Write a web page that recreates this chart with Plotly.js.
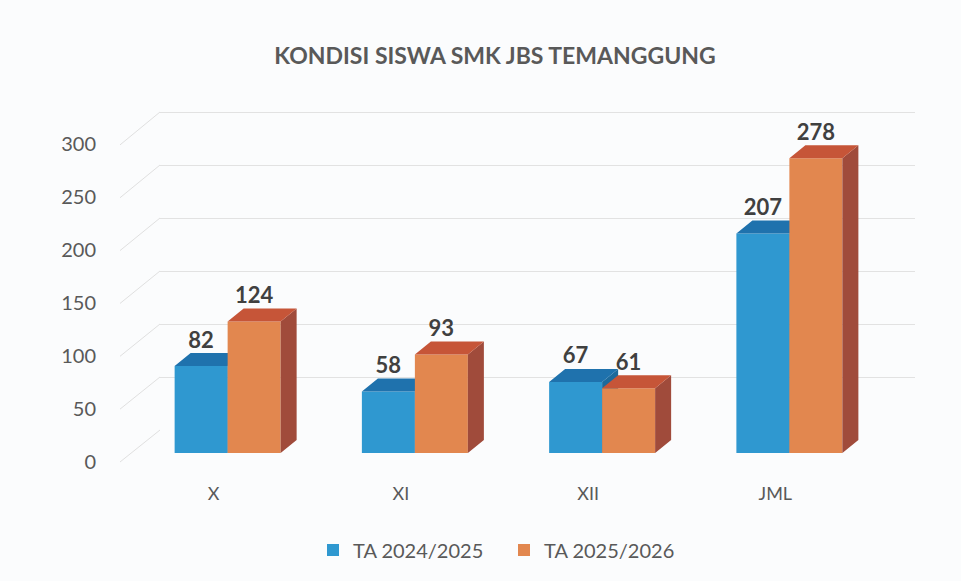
<!DOCTYPE html>
<html><head><meta charset="utf-8">
<script src="https://cdn.plot.ly/plotly-3.0.1.min.js"></script>
<style>html,body{margin:0;padding:0;background:#fbfcfd}#chart{width:961px;height:581px}</style>
</head><body><div id="chart"></div><script>
const categories = ['X', 'XI', 'XII', 'JML'];
const seriesNames = ['TA 2024/2025', 'TA 2025/2026'];
const ta2024 = [82, 58, 67, 207];
const ta2025 = [124, 93, 61, 278];
const yTicks = [0, 50, 100, 150, 200, 250, 300];
const chartTitle = 'KONDISI SISWA SMK JBS TEMANGGUNG';

// style / geometry constants
const W = 961, H = 581;
const PXU = 1.06;            // px per unit on value axis
const BW = 0.283;            // bar width in category units
const DX = 0.0855;           // depth offset x (category units)
const DY = 12.3;             // depth offset y (value units)
const idx = categories.map((c, i) => i);
const yMax = 373 / PXU;

function faces(vals, off) {
  const top = {x: [], y: []}, side = {x: [], y: []};
  vals.forEach((v, i) => {
    const x0 = i + off, x1 = x0 + BW;
    top.x.push(x0, x1, x1 + DX, x0 + DX, x0, null);
    top.y.push(v, v, v + DY, v + DY, v, null);
    side.x.push(x1, x1 + DX, x1 + DX, x1, x1, null);
    side.y.push(0, DY, v + DY, v, 0, null);
  });
  return {top, side};
}

function seriesTraces(vals, off, name, cFront, cTop, cSide, xa, ya) {
  const f = faces(vals, off);
  return [
    {type: 'bar', x: idx, y: vals, width: BW, offset: off, name: name,
     marker: {color: cFront, line: {width: 0}}, xaxis: xa, yaxis: ya, hoverinfo: 'skip'},
    {type: 'scatter', mode: 'lines', x: f.side.x, y: f.side.y, fill: 'toself', fillcolor: cSide,
     line: {width: 0, color: cSide}, showlegend: false, xaxis: xa, yaxis: ya, hoverinfo: 'skip'},
    {type: 'scatter', mode: 'lines', x: f.top.x, y: f.top.y, fill: 'toself', fillcolor: cTop,
     line: {width: 0, color: cTop}, showlegend: false, xaxis: xa, yaxis: ya, hoverinfo: 'skip'},
    {type: 'scatter', mode: 'text', x: idx.map(i => i + off + BW / 2), y: vals.map(v => v + DY),
     text: vals.map(String), textposition: 'top center',
     textfont: {family: 'Lato, sans-serif', size: 22, color: '#404040', weight: 'bold'},
     showlegend: false, xaxis: xa, yaxis: ya, hoverinfo: 'skip', cliponaxis: false}
  ];
}

const data = [
  {type: 'scatter', x: [0], y: [0], mode: 'markers', marker: {opacity: 0}, showlegend: false,
   xaxis: 'x', yaxis: 'y', hoverinfo: 'skip'},
  ...seriesTraces(ta2024, -BW, seriesNames[0], '#2f98d0', '#1f72ad', '#1d6a9c', 'x2', 'y2'),
  ...seriesTraces(ta2025, 0, seriesNames[1], '#e2874f', '#c65538', '#a04b3b', 'x3', 'y3')
];

// slanted left-wall lines (decoration, derived from tick values)
const shapes = yTicks.map(v => ({
  type: 'line', xref: 'paper', yref: 'paper',
  x0: 120 / W, x1: 160 / W,
  y0: (H - (462 - 1.057 * v)) / H, y1: (H - (430 - PXU * v)) / H,
  line: {color: '#e0e0e0', width: 1}
}));

const layout = {
  width: W, height: H,
  margin: {l: 0, r: 0, t: 0, b: 0},
  paper_bgcolor: '#fbfcfd', plot_bgcolor: 'rgba(0,0,0,0)',
  font: {family: 'Lato, sans-serif', color: '#595959'},
  title: {text: chartTitle, x: 495 / W, xanchor: 'center', y: (H - 56) / H, yanchor: 'middle',
          font: {family: 'Lato, sans-serif', size: 23, color: '#595959', weight: 'bold'}},
  showlegend: true,
  legend: {orientation: 'h', x: 313 / W, xanchor: 'left', y: (H - 550) / H, yanchor: 'middle',
           font: {size: 20, color: '#595959'}, traceorder: 'normal', bgcolor: 'rgba(0,0,0,0)',
           entrywidth: 146, entrywidthmode: 'pixels', itemwidth: 30},
  xaxis: {domain: [160 / W, 915 / W], range: [0, 1], showgrid: false, zeroline: false,
          showticklabels: false, showline: false, anchor: 'y'},
  yaxis: {domain: [(H - 430) / H, (H - 430 + 373) / H], range: [0, yMax], tickvals: yTicks,
          showgrid: true, gridcolor: '#e2e2e2', gridwidth: 1, zeroline: false,
          showticklabels: false, anchor: 'x'},
  xaxis2: {domain: [134 / W, 883 / W], range: [-0.5, 3.5], tickvals: idx.map(i => i - 0.075),
           ticktext: categories, showgrid: false, zeroline: false, showline: false, ticks: '',
           ticklabelstandoff: 28, tickfont: {size: 18, color: '#595959'}, anchor: 'y2'},
  yaxis2: {domain: [(H - 453) / H, (H - 453 + 373) / H], range: [0, yMax], tickvals: yTicks,
           showgrid: false, zeroline: false, showline: false, ticks: '',
           ticklabelstandoff: 37, ticklabelshift: 9, tickfont: {size: 20, color: '#595959'}, anchor: 'x2'},
  xaxis3: {overlaying: 'x2', range: [-0.5, 3.5], visible: false, anchor: 'y3'},
  yaxis3: {overlaying: 'y2', range: [0, yMax], visible: false, anchor: 'x3'},
  shapes: shapes
};

Plotly.newPlot('chart', data, layout, {staticPlot: true});
</script></body></html>
